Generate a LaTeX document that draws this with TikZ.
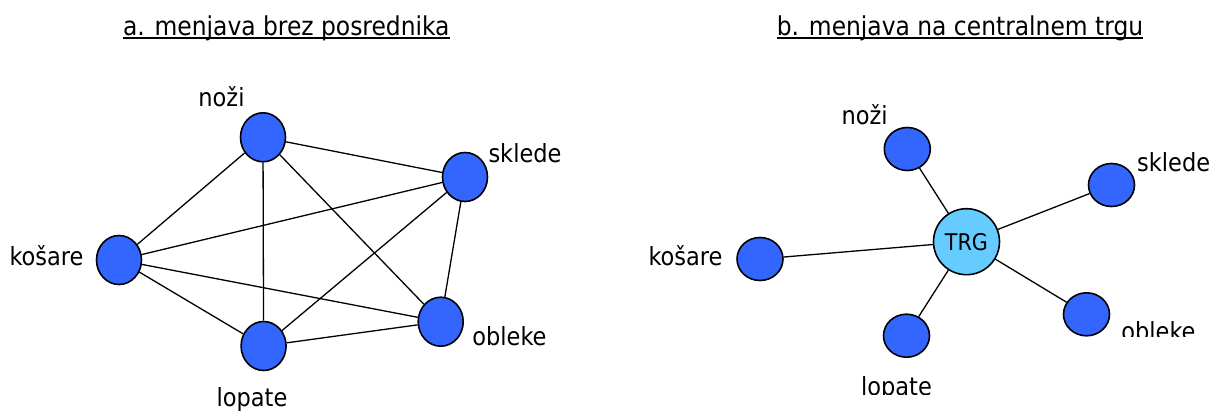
\documentclass[tikz,border=0pt]{standalone}
\usepackage{fontspec}
\setmainfont{DejaVu Sans Condensed}
\usetikzlibrary{shapes.geometric,backgrounds}
\definecolor{good}{HTML}{3366FF}
\definecolor{hub}{HTML}{66CCFF}
\tikzset{
  goodA/.style={ellipse,draw=black,line width=1.6pt,fill=good,minimum width=45pt,minimum height=49pt,inner sep=0pt},
  goodB/.style={ellipse,draw=black,line width=1.6pt,fill=good,minimum width=46pt,minimum height=43pt,inner sep=0pt},
  market/.style={ellipse,draw=black,line width=1.6pt,fill=hub,minimum width=66pt,minimum height=66pt,inner sep=0pt,font=\fontsize{23}{26}\selectfont},
  lbl/.style={anchor=base,inner sep=0pt,font=\fontsize{25}{28}\selectfont},
  ttl/.style={anchor=base,inner sep=0pt,font=\fontsize{26}{30}\selectfont},
  link/.style={line width=1.3pt,black},
  uline/.style={line width=1.5pt},
}
\begin{document}
\begin{tikzpicture}[x=1pt,y=-1pt]
\useasboundingbox (0,0) rectangle (1210,410);

% ---- a. direct barter: every pair of goods is linked
\node[ttl] (ta) at (286.3,35) {a. menjava brez posrednika};
\draw[uline] ([yshift=-3.2pt]ta.base west) -- ([yshift=-3.2pt]ta.base east);

\node[goodA] (an) at (263,137.3) {};
\node[goodA] (as) at (465,177) {};
\node[goodA] (ak) at (119,260) {};
\node[goodA] (al) at (263.6,346) {};
\node[goodA] (ao) at (440.7,321.7) {};

\node[lbl] (lan) at (221.5,106.7) {noži};
\node[lbl] (las) at (525,162.3) {sklede};
\node[lbl] (lak) at (46.5,265) {košare};
\node[lbl] (lao) at (509.5,345) {obleke};
\node[lbl] (lal) at (252,406) {lopate};

\begin{scope}[on background layer]
  \draw[link] (an) -- (as);
  \draw[link] (an) -- (ak);
  \draw[link] (an) -- (al);
  \draw[link] (an) -- (ao);
  \draw[link] (as) -- (ak);
  \draw[link] (as) -- (al);
  \draw[link] (as) -- (ao);
  \draw[link] (ak) -- (al);
  \draw[link] (ak) -- (ao);
  \draw[link] (al) -- (ao);
\end{scope}

% ---- b. exchange through a central market
\node[ttl] (tb) at (960,35) {b. menjava na centralnem trgu};
\draw[uline] ([yshift=-3.2pt]tb.base west) -- ([yshift=-3.2pt]tb.base east);

\node[market] (trg) at (966.5,241.7) {TRG};
\node[goodB] (bn) at (907.3,149) {};
\node[goodB] (bs) at (1111.5,185) {};
\node[goodB] (bk) at (760,259) {};
\node[goodB] (bl) at (906.5,335.7) {};
\node[goodB] (bo) at (1086.5,314.3) {};

\node[lbl] (lbn) at (864.7,124) {noži};
\node[lbl,anchor=base west] (lbs) at (1137,171) {sklede};
\node[lbl] (lbk) at (685.5,265) {košare};
\begin{scope}
  \clip (1100,300) rectangle (1210,336.7);
  \node[lbl] (lbo) at (1158.5,340) {obleke};
\end{scope}
\begin{scope}
  \clip (840,360) rectangle (960,394);
  \node[lbl] (lbl) at (896.5,395) {lopate};
\end{scope}

\begin{scope}[on background layer]
  \draw[link] (trg) -- (bn);
  \draw[link] (trg) -- (bs);
  \draw[link] (trg) -- (bk);
  \draw[link] (trg) -- (bl);
  \draw[link] (trg) -- (bo);
\end{scope}
\end{tikzpicture}
\end{document}
